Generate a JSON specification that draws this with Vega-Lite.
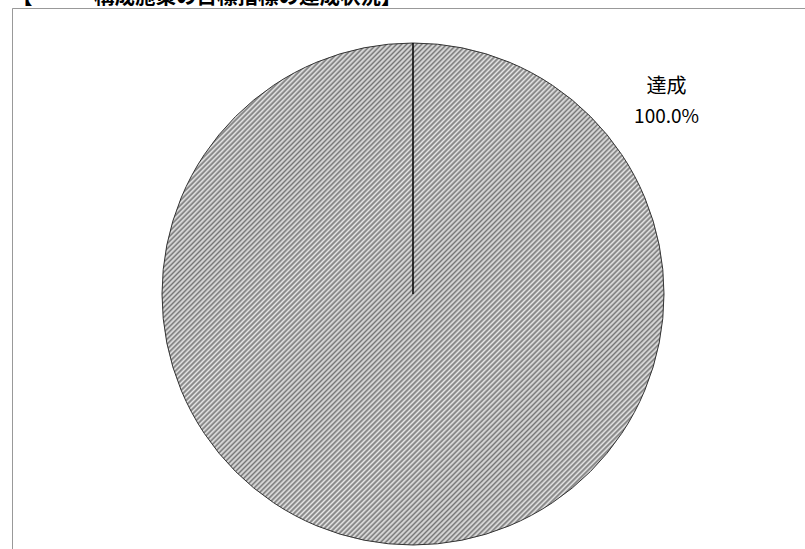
{
  "$schema": "https://vega.github.io/schema/vega-lite/v6.json",
  "autosize": {"type": "none"},
  "padding": {"left": 12, "top": 8, "right": 0, "bottom": 0},
  "width": 793,
  "height": 541,
  "view": {"stroke": "#999999", "strokeWidth": 1, "fill": "#ffffff", "strokeDash": [793, 1334, 541, 1]},
  "title": {
    "text": "【　　　構成施策の目標指標の達成状況】",
    "anchor": "start",
    "frame": "group",
    "orient": "top",
    "baseline": "alphabetic",
    "offset": -16,
    "font": "Noto Sans CJK JP",
    "fontSize": 20.5,
    "fontWeight": "bold",
    "color": "#000000"
  },
  "config": {
    "font": "Noto Sans CJK JP"
  },
  "data": {"values": [{"category": "達成", "share": 1}]},
  "layer": [
    {
      "mark": {
        "type": "arc",
        "radius": 251,
        "xOffset": 4.5,
        "yOffset": 15.5,
        "stroke": "#333333",
        "strokeWidth": 1,
        "fill": {
          "gradient": "linear",
          "x1": 0, "y1": 0, "x2": 1, "y2": 1,
          "stops": [
{"offset":0,"color":"#777"},{"offset":0.0025,"color":"#e8e8e8"},{"offset":0.005,"color":"#777"},{"offset":0.0075,"color":"#e8e8e8"},
{"offset":0.01,"color":"#777"},{"offset":0.0125,"color":"#e8e8e8"},{"offset":0.015,"color":"#777"},{"offset":0.0175,"color":"#e8e8e8"},
{"offset":0.02,"color":"#777"},{"offset":0.0225,"color":"#e8e8e8"},{"offset":0.025,"color":"#777"},{"offset":0.0275,"color":"#e8e8e8"},
{"offset":0.03,"color":"#777"},{"offset":0.0325,"color":"#e8e8e8"},{"offset":0.035,"color":"#777"},{"offset":0.0375,"color":"#e8e8e8"},
{"offset":0.04,"color":"#777"},{"offset":0.0425,"color":"#e8e8e8"},{"offset":0.045,"color":"#777"},{"offset":0.0475,"color":"#e8e8e8"},
{"offset":0.05,"color":"#777"},{"offset":0.0525,"color":"#e8e8e8"},{"offset":0.055,"color":"#777"},{"offset":0.0575,"color":"#e8e8e8"},
{"offset":0.06,"color":"#777"},{"offset":0.0625,"color":"#e8e8e8"},{"offset":0.065,"color":"#777"},{"offset":0.0675,"color":"#e8e8e8"},
{"offset":0.07,"color":"#777"},{"offset":0.0725,"color":"#e8e8e8"},{"offset":0.075,"color":"#777"},{"offset":0.0775,"color":"#e8e8e8"},
{"offset":0.08,"color":"#777"},{"offset":0.0825,"color":"#e8e8e8"},{"offset":0.085,"color":"#777"},{"offset":0.0875,"color":"#e8e8e8"},
{"offset":0.09,"color":"#777"},{"offset":0.0925,"color":"#e8e8e8"},{"offset":0.095,"color":"#777"},{"offset":0.0975,"color":"#e8e8e8"},
{"offset":0.10,"color":"#777"},{"offset":0.1025,"color":"#e8e8e8"},{"offset":0.105,"color":"#777"},{"offset":0.1075,"color":"#e8e8e8"},
{"offset":0.11,"color":"#777"},{"offset":0.1125,"color":"#e8e8e8"},{"offset":0.115,"color":"#777"},{"offset":0.1175,"color":"#e8e8e8"},
{"offset":0.12,"color":"#777"},{"offset":0.1225,"color":"#e8e8e8"},{"offset":0.125,"color":"#777"},{"offset":0.1275,"color":"#e8e8e8"},
{"offset":0.13,"color":"#777"},{"offset":0.1325,"color":"#e8e8e8"},{"offset":0.135,"color":"#777"},{"offset":0.1375,"color":"#e8e8e8"},
{"offset":0.14,"color":"#777"},{"offset":0.1425,"color":"#e8e8e8"},{"offset":0.145,"color":"#777"},{"offset":0.1475,"color":"#e8e8e8"},
{"offset":0.15,"color":"#777"},{"offset":0.1525,"color":"#e8e8e8"},{"offset":0.155,"color":"#777"},{"offset":0.1575,"color":"#e8e8e8"},
{"offset":0.16,"color":"#777"},{"offset":0.1625,"color":"#e8e8e8"},{"offset":0.165,"color":"#777"},{"offset":0.1675,"color":"#e8e8e8"},
{"offset":0.17,"color":"#777"},{"offset":0.1725,"color":"#e8e8e8"},{"offset":0.175,"color":"#777"},{"offset":0.1775,"color":"#e8e8e8"},
{"offset":0.18,"color":"#777"},{"offset":0.1825,"color":"#e8e8e8"},{"offset":0.185,"color":"#777"},{"offset":0.1875,"color":"#e8e8e8"},
{"offset":0.19,"color":"#777"},{"offset":0.1925,"color":"#e8e8e8"},{"offset":0.195,"color":"#777"},{"offset":0.1975,"color":"#e8e8e8"},
{"offset":0.20,"color":"#777"},{"offset":0.2025,"color":"#e8e8e8"},{"offset":0.205,"color":"#777"},{"offset":0.2075,"color":"#e8e8e8"},
{"offset":0.21,"color":"#777"},{"offset":0.2125,"color":"#e8e8e8"},{"offset":0.215,"color":"#777"},{"offset":0.2175,"color":"#e8e8e8"},
{"offset":0.22,"color":"#777"},{"offset":0.2225,"color":"#e8e8e8"},{"offset":0.225,"color":"#777"},{"offset":0.2275,"color":"#e8e8e8"},
{"offset":0.23,"color":"#777"},{"offset":0.2325,"color":"#e8e8e8"},{"offset":0.235,"color":"#777"},{"offset":0.2375,"color":"#e8e8e8"},
{"offset":0.24,"color":"#777"},{"offset":0.2425,"color":"#e8e8e8"},{"offset":0.245,"color":"#777"},{"offset":0.2475,"color":"#e8e8e8"},
{"offset":0.25,"color":"#777"},{"offset":0.2525,"color":"#e8e8e8"},{"offset":0.255,"color":"#777"},{"offset":0.2575,"color":"#e8e8e8"},
{"offset":0.26,"color":"#777"},{"offset":0.2625,"color":"#e8e8e8"},{"offset":0.265,"color":"#777"},{"offset":0.2675,"color":"#e8e8e8"},
{"offset":0.27,"color":"#777"},{"offset":0.2725,"color":"#e8e8e8"},{"offset":0.275,"color":"#777"},{"offset":0.2775,"color":"#e8e8e8"},
{"offset":0.28,"color":"#777"},{"offset":0.2825,"color":"#e8e8e8"},{"offset":0.285,"color":"#777"},{"offset":0.2875,"color":"#e8e8e8"},
{"offset":0.29,"color":"#777"},{"offset":0.2925,"color":"#e8e8e8"},{"offset":0.295,"color":"#777"},{"offset":0.2975,"color":"#e8e8e8"},
{"offset":0.30,"color":"#777"},{"offset":0.3025,"color":"#e8e8e8"},{"offset":0.305,"color":"#777"},{"offset":0.3075,"color":"#e8e8e8"},
{"offset":0.31,"color":"#777"},{"offset":0.3125,"color":"#e8e8e8"},{"offset":0.315,"color":"#777"},{"offset":0.3175,"color":"#e8e8e8"},
{"offset":0.32,"color":"#777"},{"offset":0.3225,"color":"#e8e8e8"},{"offset":0.325,"color":"#777"},{"offset":0.3275,"color":"#e8e8e8"},
{"offset":0.33,"color":"#777"},{"offset":0.3325,"color":"#e8e8e8"},{"offset":0.335,"color":"#777"},{"offset":0.3375,"color":"#e8e8e8"},
{"offset":0.34,"color":"#777"},{"offset":0.3425,"color":"#e8e8e8"},{"offset":0.345,"color":"#777"},{"offset":0.3475,"color":"#e8e8e8"},
{"offset":0.35,"color":"#777"},{"offset":0.3525,"color":"#e8e8e8"},{"offset":0.355,"color":"#777"},{"offset":0.3575,"color":"#e8e8e8"},
{"offset":0.36,"color":"#777"},{"offset":0.3625,"color":"#e8e8e8"},{"offset":0.365,"color":"#777"},{"offset":0.3675,"color":"#e8e8e8"},
{"offset":0.37,"color":"#777"},{"offset":0.3725,"color":"#e8e8e8"},{"offset":0.375,"color":"#777"},{"offset":0.3775,"color":"#e8e8e8"},
{"offset":0.38,"color":"#777"},{"offset":0.3825,"color":"#e8e8e8"},{"offset":0.385,"color":"#777"},{"offset":0.3875,"color":"#e8e8e8"},
{"offset":0.39,"color":"#777"},{"offset":0.3925,"color":"#e8e8e8"},{"offset":0.395,"color":"#777"},{"offset":0.3975,"color":"#e8e8e8"},
{"offset":0.40,"color":"#777"},{"offset":0.4025,"color":"#e8e8e8"},{"offset":0.405,"color":"#777"},{"offset":0.4075,"color":"#e8e8e8"},
{"offset":0.41,"color":"#777"},{"offset":0.4125,"color":"#e8e8e8"},{"offset":0.415,"color":"#777"},{"offset":0.4175,"color":"#e8e8e8"},
{"offset":0.42,"color":"#777"},{"offset":0.4225,"color":"#e8e8e8"},{"offset":0.425,"color":"#777"},{"offset":0.4275,"color":"#e8e8e8"},
{"offset":0.43,"color":"#777"},{"offset":0.4325,"color":"#e8e8e8"},{"offset":0.435,"color":"#777"},{"offset":0.4375,"color":"#e8e8e8"},
{"offset":0.44,"color":"#777"},{"offset":0.4425,"color":"#e8e8e8"},{"offset":0.445,"color":"#777"},{"offset":0.4475,"color":"#e8e8e8"},
{"offset":0.45,"color":"#777"},{"offset":0.4525,"color":"#e8e8e8"},{"offset":0.455,"color":"#777"},{"offset":0.4575,"color":"#e8e8e8"},
{"offset":0.46,"color":"#777"},{"offset":0.4625,"color":"#e8e8e8"},{"offset":0.465,"color":"#777"},{"offset":0.4675,"color":"#e8e8e8"},
{"offset":0.47,"color":"#777"},{"offset":0.4725,"color":"#e8e8e8"},{"offset":0.475,"color":"#777"},{"offset":0.4775,"color":"#e8e8e8"},
{"offset":0.48,"color":"#777"},{"offset":0.4825,"color":"#e8e8e8"},{"offset":0.485,"color":"#777"},{"offset":0.4875,"color":"#e8e8e8"},
{"offset":0.49,"color":"#777"},{"offset":0.4925,"color":"#e8e8e8"},{"offset":0.495,"color":"#777"},{"offset":0.4975,"color":"#e8e8e8"},
{"offset":0.50,"color":"#777"},{"offset":0.5025,"color":"#e8e8e8"},{"offset":0.505,"color":"#777"},{"offset":0.5075,"color":"#e8e8e8"},
{"offset":0.51,"color":"#777"},{"offset":0.5125,"color":"#e8e8e8"},{"offset":0.515,"color":"#777"},{"offset":0.5175,"color":"#e8e8e8"},
{"offset":0.52,"color":"#777"},{"offset":0.5225,"color":"#e8e8e8"},{"offset":0.525,"color":"#777"},{"offset":0.5275,"color":"#e8e8e8"},
{"offset":0.53,"color":"#777"},{"offset":0.5325,"color":"#e8e8e8"},{"offset":0.535,"color":"#777"},{"offset":0.5375,"color":"#e8e8e8"},
{"offset":0.54,"color":"#777"},{"offset":0.5425,"color":"#e8e8e8"},{"offset":0.545,"color":"#777"},{"offset":0.5475,"color":"#e8e8e8"},
{"offset":0.55,"color":"#777"},{"offset":0.5525,"color":"#e8e8e8"},{"offset":0.555,"color":"#777"},{"offset":0.5575,"color":"#e8e8e8"},
{"offset":0.56,"color":"#777"},{"offset":0.5625,"color":"#e8e8e8"},{"offset":0.565,"color":"#777"},{"offset":0.5675,"color":"#e8e8e8"},
{"offset":0.57,"color":"#777"},{"offset":0.5725,"color":"#e8e8e8"},{"offset":0.575,"color":"#777"},{"offset":0.5775,"color":"#e8e8e8"},
{"offset":0.58,"color":"#777"},{"offset":0.5825,"color":"#e8e8e8"},{"offset":0.585,"color":"#777"},{"offset":0.5875,"color":"#e8e8e8"},
{"offset":0.59,"color":"#777"},{"offset":0.5925,"color":"#e8e8e8"},{"offset":0.595,"color":"#777"},{"offset":0.5975,"color":"#e8e8e8"},
{"offset":0.60,"color":"#777"},{"offset":0.6025,"color":"#e8e8e8"},{"offset":0.605,"color":"#777"},{"offset":0.6075,"color":"#e8e8e8"},
{"offset":0.61,"color":"#777"},{"offset":0.6125,"color":"#e8e8e8"},{"offset":0.615,"color":"#777"},{"offset":0.6175,"color":"#e8e8e8"},
{"offset":0.62,"color":"#777"},{"offset":0.6225,"color":"#e8e8e8"},{"offset":0.625,"color":"#777"},{"offset":0.6275,"color":"#e8e8e8"},
{"offset":0.63,"color":"#777"},{"offset":0.6325,"color":"#e8e8e8"},{"offset":0.635,"color":"#777"},{"offset":0.6375,"color":"#e8e8e8"},
{"offset":0.64,"color":"#777"},{"offset":0.6425,"color":"#e8e8e8"},{"offset":0.645,"color":"#777"},{"offset":0.6475,"color":"#e8e8e8"},
{"offset":0.65,"color":"#777"},{"offset":0.6525,"color":"#e8e8e8"},{"offset":0.655,"color":"#777"},{"offset":0.6575,"color":"#e8e8e8"},
{"offset":0.66,"color":"#777"},{"offset":0.6625,"color":"#e8e8e8"},{"offset":0.665,"color":"#777"},{"offset":0.6675,"color":"#e8e8e8"},
{"offset":0.67,"color":"#777"},{"offset":0.6725,"color":"#e8e8e8"},{"offset":0.675,"color":"#777"},{"offset":0.6775,"color":"#e8e8e8"},
{"offset":0.68,"color":"#777"},{"offset":0.6825,"color":"#e8e8e8"},{"offset":0.685,"color":"#777"},{"offset":0.6875,"color":"#e8e8e8"},
{"offset":0.69,"color":"#777"},{"offset":0.6925,"color":"#e8e8e8"},{"offset":0.695,"color":"#777"},{"offset":0.6975,"color":"#e8e8e8"},
{"offset":0.70,"color":"#777"},{"offset":0.7025,"color":"#e8e8e8"},{"offset":0.705,"color":"#777"},{"offset":0.7075,"color":"#e8e8e8"},
{"offset":0.71,"color":"#777"},{"offset":0.7125,"color":"#e8e8e8"},{"offset":0.715,"color":"#777"},{"offset":0.7175,"color":"#e8e8e8"},
{"offset":0.72,"color":"#777"},{"offset":0.7225,"color":"#e8e8e8"},{"offset":0.725,"color":"#777"},{"offset":0.7275,"color":"#e8e8e8"},
{"offset":0.73,"color":"#777"},{"offset":0.7325,"color":"#e8e8e8"},{"offset":0.735,"color":"#777"},{"offset":0.7375,"color":"#e8e8e8"},
{"offset":0.74,"color":"#777"},{"offset":0.7425,"color":"#e8e8e8"},{"offset":0.745,"color":"#777"},{"offset":0.7475,"color":"#e8e8e8"},
{"offset":0.75,"color":"#777"},{"offset":0.7525,"color":"#e8e8e8"},{"offset":0.755,"color":"#777"},{"offset":0.7575,"color":"#e8e8e8"},
{"offset":0.76,"color":"#777"},{"offset":0.7625,"color":"#e8e8e8"},{"offset":0.765,"color":"#777"},{"offset":0.7675,"color":"#e8e8e8"},
{"offset":0.77,"color":"#777"},{"offset":0.7725,"color":"#e8e8e8"},{"offset":0.775,"color":"#777"},{"offset":0.7775,"color":"#e8e8e8"},
{"offset":0.78,"color":"#777"},{"offset":0.7825,"color":"#e8e8e8"},{"offset":0.785,"color":"#777"},{"offset":0.7875,"color":"#e8e8e8"},
{"offset":0.79,"color":"#777"},{"offset":0.7925,"color":"#e8e8e8"},{"offset":0.795,"color":"#777"},{"offset":0.7975,"color":"#e8e8e8"},
{"offset":0.80,"color":"#777"},{"offset":0.8025,"color":"#e8e8e8"},{"offset":0.805,"color":"#777"},{"offset":0.8075,"color":"#e8e8e8"},
{"offset":0.81,"color":"#777"},{"offset":0.8125,"color":"#e8e8e8"},{"offset":0.815,"color":"#777"},{"offset":0.8175,"color":"#e8e8e8"},
{"offset":0.82,"color":"#777"},{"offset":0.8225,"color":"#e8e8e8"},{"offset":0.825,"color":"#777"},{"offset":0.8275,"color":"#e8e8e8"},
{"offset":0.83,"color":"#777"},{"offset":0.8325,"color":"#e8e8e8"},{"offset":0.835,"color":"#777"},{"offset":0.8375,"color":"#e8e8e8"},
{"offset":0.84,"color":"#777"},{"offset":0.8425,"color":"#e8e8e8"},{"offset":0.845,"color":"#777"},{"offset":0.8475,"color":"#e8e8e8"},
{"offset":0.85,"color":"#777"},{"offset":0.8525,"color":"#e8e8e8"},{"offset":0.855,"color":"#777"},{"offset":0.8575,"color":"#e8e8e8"},
{"offset":0.86,"color":"#777"},{"offset":0.8625,"color":"#e8e8e8"},{"offset":0.865,"color":"#777"},{"offset":0.8675,"color":"#e8e8e8"},
{"offset":0.87,"color":"#777"},{"offset":0.8725,"color":"#e8e8e8"},{"offset":0.875,"color":"#777"},{"offset":0.8775,"color":"#e8e8e8"},
{"offset":0.88,"color":"#777"},{"offset":0.8825,"color":"#e8e8e8"},{"offset":0.885,"color":"#777"},{"offset":0.8875,"color":"#e8e8e8"},
{"offset":0.89,"color":"#777"},{"offset":0.8925,"color":"#e8e8e8"},{"offset":0.895,"color":"#777"},{"offset":0.8975,"color":"#e8e8e8"},
{"offset":0.90,"color":"#777"},{"offset":0.9025,"color":"#e8e8e8"},{"offset":0.905,"color":"#777"},{"offset":0.9075,"color":"#e8e8e8"},
{"offset":0.91,"color":"#777"},{"offset":0.9125,"color":"#e8e8e8"},{"offset":0.915,"color":"#777"},{"offset":0.9175,"color":"#e8e8e8"},
{"offset":0.92,"color":"#777"},{"offset":0.9225,"color":"#e8e8e8"},{"offset":0.925,"color":"#777"},{"offset":0.9275,"color":"#e8e8e8"},
{"offset":0.93,"color":"#777"},{"offset":0.9325,"color":"#e8e8e8"},{"offset":0.935,"color":"#777"},{"offset":0.9375,"color":"#e8e8e8"},
{"offset":0.94,"color":"#777"},{"offset":0.9425,"color":"#e8e8e8"},{"offset":0.945,"color":"#777"},{"offset":0.9475,"color":"#e8e8e8"},
{"offset":0.95,"color":"#777"},{"offset":0.9525,"color":"#e8e8e8"},{"offset":0.955,"color":"#777"},{"offset":0.9575,"color":"#e8e8e8"},
{"offset":0.96,"color":"#777"},{"offset":0.9625,"color":"#e8e8e8"},{"offset":0.965,"color":"#777"},{"offset":0.9675,"color":"#e8e8e8"},
{"offset":0.97,"color":"#777"},{"offset":0.9725,"color":"#e8e8e8"},{"offset":0.975,"color":"#777"},{"offset":0.9775,"color":"#e8e8e8"},
{"offset":0.98,"color":"#777"},{"offset":0.9825,"color":"#e8e8e8"},{"offset":0.985,"color":"#777"},{"offset":0.9875,"color":"#e8e8e8"},
{"offset":0.99,"color":"#777"},{"offset":0.9925,"color":"#e8e8e8"},{"offset":0.995,"color":"#777"},{"offset":0.9975,"color":"#e8e8e8"},
{"offset":1,"color":"#777"}
          ]
        }
      },
      "encoding": {
        "theta": {"field": "share", "type": "quantitative", "stack": true, "scale": {"domain": [0, 1]}}
      }
    },
    {
      "mark": {
        "type": "arc",
        "radius": 251,
        "xOffset": 4.5,
        "yOffset": 15.5,
        "fill": null,
        "stroke": "#000000",
        "strokeWidth": 1
      },
      "encoding": {
        "theta": {"value": 0},
        "theta2": {"value": 0}
      }
    },
    {
      "mark": {
        "type": "text",
        "align": "center",
        "baseline": "middle",
        "fontSize": 20,
        "dy": -15,
        "xOffset": 4.5,
        "yOffset": 15.5,
        "color": "#000000"
      },
      "encoding": {
        "theta": {"value": 0.923},
        "radius": {"value": 318},
        "text": {"field": "category", "type": "nominal"}
      }
    },
    {
      "mark": {
        "type": "text",
        "align": "center",
        "baseline": "middle",
        "fontSize": 19,
        "dy": 15,
        "xOffset": 4.5,
        "yOffset": 15.5,
        "color": "#000000"
      },
      "encoding": {
        "theta": {"value": 0.923},
        "radius": {"value": 318},
        "text": {"field": "share", "type": "quantitative", "format": ".1%"}
      }
    }
  ]
}
